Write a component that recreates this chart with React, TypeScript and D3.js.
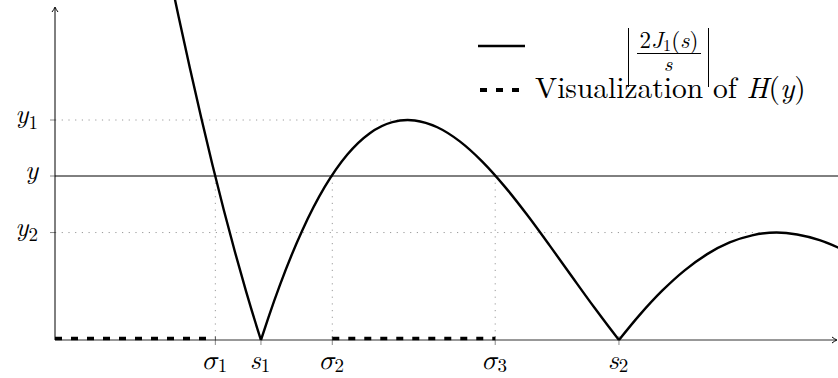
import React from 'react';
import * as d3 from 'd3';

// sample points of |2 J1(s) / s|
const sValues = [3.0, 3.1, 3.2, 3.3, 3.4, 3.5, 3.6, 3.7, 3.8, 3.8317, 3.9, 4.0, 4.2, 4.4, 4.6, 4.8, 5.0, 5.136, 5.2, 5.4, 5.6, 5.8, 6.0, 6.2, 6.4, 6.6, 6.8, 7.0, 7.0156, 7.2, 7.4, 7.6, 7.8, 8.0, 8.2, 8.417, 8.6, 8.8, 9.0];
const curveValues = [0.22604, 0.19414, 0.16334, 0.13373, 0.10543, 0.0785, 0.05304, 0.0291, 0.00675, 0, 0.01397, 0.03302, 0.06602, 0.09216, 0.11154, 0.12437, 0.13103, 0.13228, 0.13201, 0.1279, 0.1194, 0.10725, 0.09223, 0.07514, 0.05676, 0.03787, 0.01919, 0.00134, 0, 0.01509, 0.02963, 0.0419, 0.05163, 0.05866, 0.06293, 0.0646, 0.06343, 0.06001, 0.05451];

// marked positions on the s axis
const tickNames = ['σ', 's', 'σ', 'σ', 's'];
const tickSubs = ['1', '1', '2', '3', '2'];
const tickS = [3.426, 3.8317, 4.466, 5.915, 7.0156];
const dottedSigmas = [3.426, 4.466, 5.915];

// levels on the vertical axis
const levelSubs = ['1', '', '2'];
const levelValues = [0.13228, 0.0986, 0.0646];
const peakS = [5.136, 0, 8.417];

// H(y): where the curve lies above y
const hIntervals = [[2.0, 3.426], [4.466, 5.915]];

const font = '"Latin Modern Roman", "Latin Modern Math", "Liberation Serif", serif';

const width = 838;
const height = 378;

export default function App() {
    const xScale = d3.scaleLinear().domain([2, 9]).range([55, 842.1]);
    const yScale = d3.scaleLinear().domain([0, 0.13228]).range([340, 120]);
    const x0 = xScale(2);
    const yBase = yScale(0);
    const yLine = yScale(levelValues[1]);

    // split at zeros so the cusps stay sharp
    const points = sValues.map((s, i) => [s, curveValues[i]]);
    const segments = [];
    let current = [];
    points.forEach((p, i) => {
        current.push(p);
        if (p[1] === 0 && i > 0) {
            segments.push(current);
            current = [p];
        }
    });
    segments.push(current);
    const line = d3.line()
        .x(d => xScale(d[0]))
        .y(d => yScale(d[1]))
        .curve(d3.curveMonotoneX);

    const dotted = { stroke: '#9a9a9a', strokeWidth: 1, strokeDasharray: '1.2 5.5' };

    return (
        <svg width={width} height={height} fontFamily={font}
            style={{ position: 'absolute', left: 0, top: 0, background: '#fff', display: 'block' }}>
            {/* dotted guides */}
            {levelValues.map((v, i) => levelSubs[i] === '' ? null : (
                <line key={'lv' + i} x1={x0} x2={xScale(peakS[i])} y1={yScale(v)} y2={yScale(v)} {...dotted} />
            ))}
            {dottedSigmas.map(s => (
                <line key={'ds' + s} x1={xScale(s)} x2={xScale(s)} y1={yLine} y2={yBase} {...dotted} />
            ))}

            {/* y level */}
            <line x1={x0} x2={width} y1={yLine} y2={yLine} stroke="#000" strokeWidth={1} />

            {/* ticks */}
            {levelValues.map((v, i) => (
                <line key={'yt' + i} x1={x0 - 5} x2={x0} y1={yScale(v)} y2={yScale(v)} stroke="#888" strokeWidth={1} />
            ))}
            {tickS.map((s, i) => (
                <line key={'xt' + i} x1={xScale(s)} x2={xScale(s)} y1={yBase - 4} y2={yBase + 5} stroke="#888" strokeWidth={1} />
            ))}

            {/* axes */}
            <line x1={x0} x2={836} y1={yBase} y2={yBase} stroke="#333" strokeWidth={1} />
            <line x1={x0} x2={x0} y1={yBase} y2={8} stroke="#000" strokeWidth={1} />
            <path d={`M${x0 - 3},12 Q${x0 - 1},9.5 ${x0},7 Q${x0 + 1},9.5 ${x0 + 3},12`} fill="none" stroke="#000" strokeWidth={1} />
            <path d={`M832,${yBase - 3} Q834.5,${yBase - 1} 837,${yBase} Q834.5,${yBase + 1} 832,${yBase + 3}`} fill="none" stroke="#000" strokeWidth={1} />

            {/* H(y) */}
            {hIntervals.map(([a, b], i) => (
                <line key={'h' + i} x1={xScale(a)} x2={xScale(b)} y1={yBase - 1.5} y2={yBase - 1.5}
                    stroke="#000" strokeWidth={3.6} strokeDasharray="7 9" />
            ))}

            {/* curve */}
            {segments.map((seg, i) => (
                <path key={'c' + i} d={line(seg)} fill="none" stroke="#000" strokeWidth={2.4} />
            ))}

            {/* y labels */}
            {levelValues.map((v, i) => (
                <text key={'yl' + i} x={38} y={yScale(v) + 3} textAnchor="end">
                    <tspan fontStyle="italic" fontSize={27}>y</tspan>
                    {levelSubs[i] ? <tspan dy={5.5} fontSize={19}>{levelSubs[i]}</tspan> : null}
                </text>
            ))}

            {/* x labels */}
            {tickS.map((s, i) => (
                <text key={'xl' + i} x={xScale(s) - 1} y={369} textAnchor="middle">
                    <tspan fontStyle="italic" fontSize={27}>{tickNames[i]}</tspan>
                    <tspan dy={3} fontSize={19}>{tickSubs[i]}</tspan>
                </text>
            ))}

            {/* legend */}
            <line x1={478} x2={525} y1={46} y2={46} stroke="#000" strokeWidth={2.4} />
            <line x1={480} x2={521} y1={90} y2={90} stroke="#000" strokeWidth={4} strokeDasharray="7 9" />
            {[628.5, 708.5].map(bx => (
                <line key={'bar' + bx} x1={bx} x2={bx} y1={28} y2={87} stroke="#000" strokeWidth={1} />
            ))}
            <text x={669} y={48} textAnchor="middle" fontSize={23}>
                <tspan>2</tspan>
                <tspan fontStyle="italic">J</tspan>
                <tspan dy={3} fontSize={16}>1</tspan>
                <tspan dy={-3}>(</tspan>
                <tspan fontStyle="italic">s</tspan>
                <tspan>)</tspan>
            </text>
            <line x1={637} x2={701} y1={53.5} y2={53.5} stroke="#000" strokeWidth={1} />
            <text x={668} y={71} textAnchor="middle" fontSize={21} fontStyle="italic">s</text>

            <text x={535} y={98} fontSize={29.5}>
                <tspan>Visualization of </tspan>
                <tspan fontStyle="italic">H</tspan>
                <tspan>(</tspan>
                <tspan fontStyle="italic">y</tspan>
                <tspan>)</tspan>
            </text>
        </svg>
    );
}
